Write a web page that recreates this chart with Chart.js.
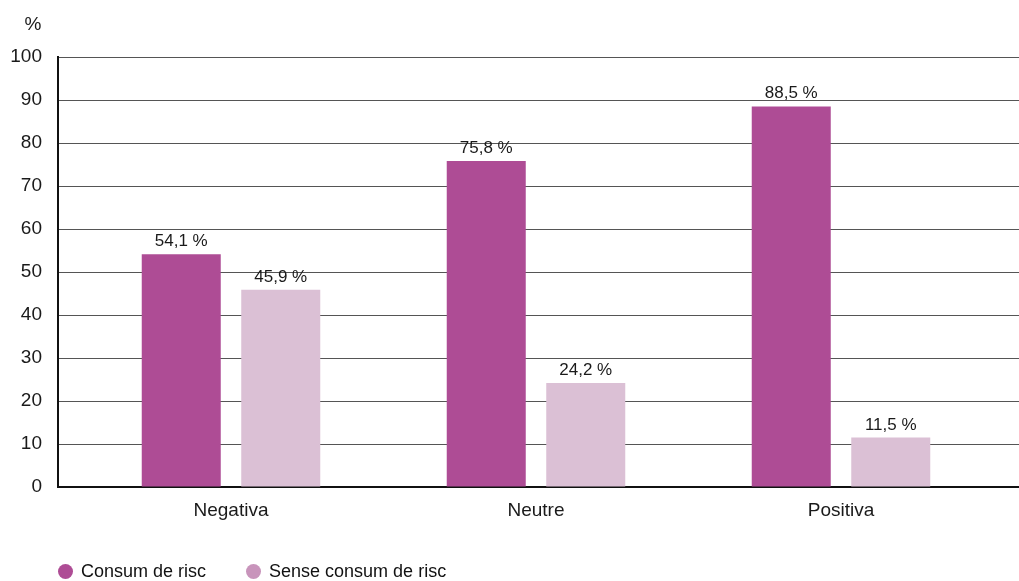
<!DOCTYPE html>
<html>
<head>
<meta charset="utf-8">
<script src="https://cdn.jsdelivr.net/npm/chart.js@4.4.1/dist/chart.umd.min.js"></script>
<style>
  html, body { margin: 0; padding: 0; background: #fff; }
  #wrap { position: relative; width: 1019px; height: 581px; }
  #legend {
    position: absolute; left: 58px; top: 561px;
    display: flex; gap: 40px;
    font-family: "Liberation Sans", Arial, sans-serif; font-size: 18px; color: #111;
  }
  .item { display: flex; align-items: center; }
  .dot { width: 15px; height: 15px; border-radius: 50%; margin-right: 8px; }
</style>
</head>
<body>
<div id="wrap">
  <canvas id="chart" width="1019" height="581"></canvas>
  <div id="legend"></div>
</div>
<script>
const categories = ["Negativa", "Neutre", "Positiva"];
const seriesNames = ["Consum de risc", "Sense consum de risc"];
const consumRisc = [54.1, 75.8, 88.5];
const senseConsum = [45.9, 24.2, 11.5];
const yTicks = [0, 10, 20, 30, 40, 50, 60, 70, 80, 90, 100];

const barColors = ["#ae4c95", "#dbc0d5"];
const legendColors = ["#ae4c95", "#c894bb"];
const fontFamily = "'Liberation Sans', Arial, sans-serif";

function toPoints(values) {
  return values.map((v, i) => ({ x: i, y: v }));
}

// value labels above each bar, comma decimals
const valueLabels = {
  id: "valueLabels",
  afterDatasetsDraw(chart) {
    const ctx = chart.ctx;
    ctx.save();
    ctx.font = "17px " + fontFamily;
    ctx.fillStyle = "#1a1a1a";
    ctx.textAlign = "center";
    ctx.textBaseline = "alphabetic";
    chart.data.datasets.forEach((ds, d) => {
      chart.getDatasetMeta(d).data.forEach((bar, i) => {
        const txt = ds.data[i].y.toFixed(1).replace(".", ",") + " %";
        ctx.fillText(txt, bar.x, bar.y - 8);
      });
    });
    ctx.restore();
  }
};

const unitLabel = {
  id: "unitLabel",
  afterDraw(chart) {
    const ctx = chart.ctx;
    const area = chart.chartArea;
    ctx.save();
    ctx.font = "19px " + fontFamily;
    ctx.fillStyle = "#1a1a1a";
    ctx.textAlign = "center";
    ctx.textBaseline = "middle";
    ctx.fillText("%", area.left - 25, area.top - 32);
    ctx.restore();
  }
};

const ctx = document.getElementById("chart").getContext("2d");
const chart = new Chart(ctx, {
  type: "bar",
  data: {
    datasets: [
      { label: seriesNames[0], data: toPoints(consumRisc), backgroundColor: barColors[0] },
      { label: seriesNames[1], data: toPoints(senseConsum), backgroundColor: barColors[1] }
    ]
  },
  options: {
    responsive: false,
    animation: false,
    categoryPercentage: 0.6525,
    barPercentage: 0.794,
    layout: { padding: { top: 57, right: 0, bottom: 0, left: 0 } },
    plugins: {
      legend: { display: false },
      tooltip: { enabled: false }
    },
    scales: {
      x: {
        type: "linear",
        offset: false,
        min: -0.5672,
        max: 2.5836,
        grid: { display: false, offset: false },
        border: { display: true, color: "#111", width: 2 },
        afterBuildTicks: (scale) => {
          scale.ticks = categories.map((c, i) => ({ value: i }));
        },
        afterFit: (scale) => { scale.height = 94; },
        ticks: {
          autoSkip: false,
          maxRotation: 0,
          padding: 4,
          color: "#1a1a1a",
          font: { family: fontFamily, size: 19 },
          callback: (v) => categories[v]
        }
      },
      y: {
        min: 0,
        max: 100,
        afterBuildTicks: (scale) => {
          scale.ticks = yTicks.map(v => ({ value: v }));
        },
        afterFit: (scale) => { scale.width = 58; },
        grid: { color: "#555", lineWidth: 1, drawTicks: false },
        border: { display: true, color: "#111", width: 2 },
        ticks: {
          padding: 16,
          color: "#1a1a1a",
          font: { family: fontFamily, size: 19 }
        }
      }
    }
  },
  plugins: [valueLabels, unitLabel]
});

const legendEl = document.getElementById("legend");
seriesNames.forEach((name, i) => {
  const item = document.createElement("div");
  item.className = "item";
  const dot = document.createElement("span");
  dot.className = "dot";
  dot.style.background = legendColors[i];
  const label = document.createElement("span");
  label.textContent = name;
  item.appendChild(dot);
  item.appendChild(label);
  legendEl.appendChild(item);
});
</script>
</body>
</html>
